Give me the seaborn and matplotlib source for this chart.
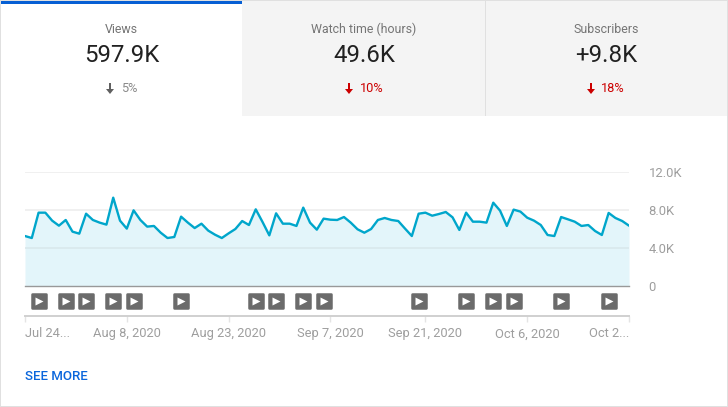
import matplotlib
matplotlib.use("Agg")
import matplotlib.pyplot as plt
from matplotlib.markers import MarkerStyle
from matplotlib.patches import Rectangle, Polygon
from matplotlib.transforms import blended_transform_factory
import numpy as np
import pandas as pd
import seaborn as sns

views = [5260, 5050, 7720, 7720, 6880, 6350, 6950, 5720, 5510, 7610,
         6950, 6670, 6460, 9300, 6880, 6040, 7965, 6950, 6250, 6320,
         5610, 5050, 5160, 7300, 6670, 6100, 6560, 5830, 5400, 5050,
         5540, 6000, 6840, 6420, 8070, 6740, 5330, 7650, 6560, 6560,
         6320, 8250, 6670, 5930, 7090, 6980, 6950, 7260, 6670, 5970,
         5610, 6000, 6950, 7160, 6950, 6840, 6040, 5260, 7610, 7720,
         7400, 7580, 7790, 7230, 5900, 7720, 6770, 6770, 6670, 8770,
         7930, 6320, 8040, 7830, 7190, 6880, 6420, 5370, 5260, 7260,
         7020, 6770, 6320, 6420, 5790, 5370, 7690, 7160, 6840, 6350]
video_days = [2, 6, 9, 13, 16, 23, 34, 37, 41, 44, 58, 65, 69, 72, 79, 86]
date_ticks = [0, 15, 30, 45, 59, 74, 89]
date_labels = ["Jul 24...", "Aug 8, 2020", "Aug 23, 2020", "Sep 7, 2020",
               "Sep 21, 2020", "Oct 6, 2020", "Oct 2..."]
y_ticks = [0, 4000, 8000, 12000]
y_labels = ["0", "4.0K", "8.0K", "12.0K"]
card_titles = ["Views", "Watch time (hours)", "Subscribers"]
card_values = ["597.9K", "49.6K", "+9.8K"]
card_deltas = ["5%", "10%", "18%"]

W, H = 728, 407
sns.set_theme(style="white")
plt.rcParams["font.family"] = ["Roboto", "DejaVu Sans"]
fig = plt.figure(figsize=(W / 100, H / 100), dpi=100, facecolor="white")

def rect(l, t, r, b):
    return [l / W, 1 - b / H, (r - l) / W, (b - t) / H]

bg = fig.add_axes([0, 0, 1, 1], zorder=0)
bg.set_xlim(0, W); bg.set_ylim(H, 0); bg.axis("off")
border = "#e0e0e0"
bg.add_patch(Rectangle((242, 1), 485, 115, fc="#f4f4f4", ec="none"))
bg.add_patch(Rectangle((1, 1), 241, 3, fc="#065fd4", ec="none"))
bg.add_patch(Rectangle((485, 1), 1, 115, fc=border, ec="none"))
bg.add_patch(Rectangle((0, 0), W, 1, fc=border, ec="none"))
bg.add_patch(Rectangle((0, 0), 1, H, fc=border, ec="none"))
bg.add_patch(Rectangle((W - 1, 0), 1, H, fc=border, ec="none"))
bg.add_patch(Rectangle((0, H - 1), W, 1, fc=border, ec="none"))

centers = [121.5, 364, 606]
arrow_x = [110, 349, 591]
delta_x = [129, 371.5, 613]
colors = ["#606060", "#cc0000", "#cc0000"]
delta_colors = ["#8a8a8a", "#cc0000", "#cc0000"]
for i in range(3):
    bg.text(centers[i], 29.5, card_titles[i], ha="center", va="center",
            fontsize=8.9, color="#757575")
    bg.text(centers[i], 56, card_values[i], ha="center", va="center",
            fontsize=17.3, color="#212121")
    bg.text(delta_x[i], 88, card_deltas[i], ha="center", va="center",
            fontsize=9.2, color=delta_colors[i])
    a = arrow_x[i]
    bg.add_patch(Polygon([(a - 1, 83), (a + 1, 83), (a + 1, 89), (a + 4, 89),
                          (a, 94), (a - 4, 89), (a - 1, 89)],
                         closed=True, fc=colors[i], ec="none"))
bg.text(25, 377, "SEE MORE", ha="left", va="center", fontsize=9.5,
        color="#0a66dc", fontweight="medium")

ax = fig.add_axes(rect(25, 172, 629, 286), zorder=2)
ax.patch.set_visible(False)
df = pd.DataFrame({"day": np.arange(len(views)), "views": views})
ax.fill_between(df["day"], 0, df["views"], color="#e3f5fa", lw=0, zorder=1)
sns.lineplot(data=df, x="day", y="views", ax=ax, color="#00a6cb", lw=1.7,
             zorder=3, errorbar=None)
ax.set_xlim(0, 89)
ax.set_ylim(0, 12000)
ax.set_xlabel(""); ax.set_ylabel("")
ax.set_xticks([])
ax.yaxis.tick_right()
ax.set_yticks(y_ticks, y_labels)
ax.tick_params(axis="y", length=0, pad=14.2, labelsize=9.4, labelcolor="#9e9e9e")
for lab in ax.get_yticklabels():
    lab.set_va("center_baseline")
for s in ("top", "left", "right"):
    ax.spines[s].set_visible(False)
ax.spines["bottom"].set_color("#999999")
ax.spines["bottom"].set_linewidth(1.0)
ax.grid(axis="y", color="#eeeeee", lw=1.2)
ax.set_axisbelow(True)
ax.yaxis.set_zorder(1.5)
for gl, v in zip(ax.get_ygridlines(), y_ticks):
    if v == 0:
        gl.set_visible(False)
    if v == 4000:
        gl.set_color("#d9e8ec")

tr = blended_transform_factory(ax.transData, ax.transAxes)
my = -15 / 114
box = MarkerStyle("s", joinstyle="round")
ax.plot(video_days, [my] * len(video_days), ls="none", marker=box, ms=9.8,
        mfc="#6b6b6b", mec="#6b6b6b", mew=1.8, transform=tr, clip_on=False, zorder=5)
ax.plot(video_days, [my] * len(video_days), ls="none", marker=">", ms=6.4,
        mfc="white", mec="none", transform=tr, clip_on=False, zorder=6)

ax2 = fig.add_axes(rect(25, 316, 629, 317), zorder=2)
ax2.patch.set_visible(False)
ax2.set_xlim(0, 89); ax2.set_yticks([])
for s in ("top", "left", "right"):
    ax2.spines[s].set_visible(False)
ax2.spines["bottom"].set_color("#d0d0d0")
ax2.spines["bottom"].set_linewidth(1.4)
ax2.spines["bottom"].set_position(("axes", 1))
ax2.set_xticks(date_ticks, date_labels)
ax2.tick_params(axis="x", bottom=True, length=4, width=1, color="#e4e4e4",
                labelsize=9.3, labelcolor="#9e9e9e", pad=4.2)
labs = ax2.get_xticklabels()
labs[0].set_ha("left")
labs[-1].set_ha("right")

fig.savefig("out.png", dpi=100)
